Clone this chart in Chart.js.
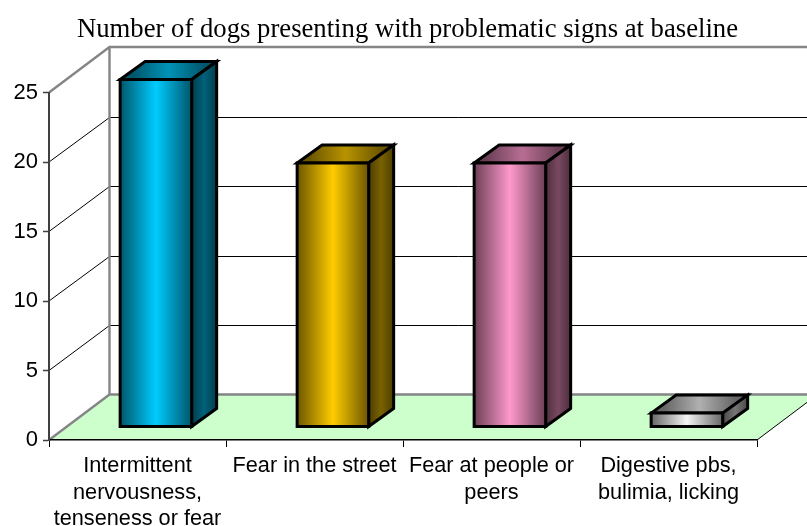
<!DOCTYPE html>
<html>
<head>
<meta charset="utf-8">
<style>html,body{margin:0;padding:0;background:#fff}#w{width:807px;height:526px;position:relative}canvas{display:block}</style>
<script src="https://cdn.jsdelivr.net/npm/chart.js@4"></script>
</head>
<body>
<div id="w"><canvas id="c" width="807" height="526"></canvas></div>
<script>
const titleText = 'Number of dogs presenting with problematic signs at baseline';
const categories = [['Intermittent','nervousness,','tenseness or fear'],'Fear in the street',['Fear at people or','peers'],['Digestive pbs,','bulimia, licking']];
const values = [25, 19, 19, 1];
const barColors = ['#00CCFF', '#FFCC00', '#FF99CC', '#F4F4F4'];
const yTicks = [0, 5, 10, 15, 20, 25];

const WALL = {dx: 60.5, dy: 45.5};
const BAR = {ox: 18.4, oy: 13, dx: 25, dy: 18};

function shade(hex, f) {
  const n = parseInt(hex.slice(1), 16);
  const r = (n >> 16) & 255, g = (n >> 8) & 255, b = n & 255;
  return `rgb(${Math.round(r * f)},${Math.round(g * f)},${Math.round(b * f)})`;
}
function sym(ctx, x0, x1, col, edge, mid) {
  const g = ctx.createLinearGradient(x0, 0, x1, 0);
  g.addColorStop(0, shade(col, edge));
  g.addColorStop(0.5, shade(col, mid));
  g.addColorStop(1, shade(col, edge));
  return g;
}
function poly(ctx, pts) {
  ctx.beginPath();
  pts.forEach((p, i) => i ? ctx.lineTo(p[0], p[1]) : ctx.moveTo(p[0], p[1]));
  ctx.closePath();
}
const threeD = {
  id: 'threeD',
  afterLayout(chart) {
    chart.titleBlock.left = 0;
    chart.titleBlock.right = 815;
  },
  beforeDraw(chart) {
    const ctx = chart.ctx, x = chart.scales.x, y = chart.scales.y;
    const L = chart.chartArea.left, R = chart.chartArea.right, W = chart.width;
    const y0 = y.getPixelForValue(0), yT = y.getPixelForValue(25);
    const bx = L + WALL.dx;
    ctx.save();
    ctx.fillStyle = '#fff';
    ctx.fillRect(0, 0, W, chart.height);
    poly(ctx, [[L, y0], [bx, y0 - WALL.dy], [R + WALL.dx, y0 - WALL.dy], [R, y0]]);
    ctx.fillStyle = '#CCFFCC';
    ctx.fill();
    ctx.strokeStyle = '#000';
    ctx.lineWidth = 1;
    yTicks.slice(1, -1).forEach(v => {
      const p = y.getPixelForValue(v);
      const hy = Math.round(p - WALL.dy) + 0.5;
      ctx.beginPath();
      ctx.moveTo(L, p);
      ctx.lineTo(bx, hy);
      ctx.lineTo(W, hy);
      ctx.stroke();
    });
    ctx.beginPath();
    ctx.moveTo(R, y0);
    ctx.lineTo(R + WALL.dx, y0 - WALL.dy);
    ctx.stroke();
    ctx.strokeStyle = '#858585';
    ctx.lineWidth = 2.4;
    ctx.beginPath();
    ctx.moveTo(L, y0);
    ctx.lineTo(bx, y0 - WALL.dy);
    ctx.lineTo(W, y0 - WALL.dy);
    ctx.moveTo(bx, y0 - WALL.dy);
    ctx.lineTo(bx, yT - WALL.dy);
    ctx.moveTo(L, yT);
    ctx.lineTo(bx, yT - WALL.dy);
    ctx.lineTo(W, yT - WALL.dy);
    ctx.stroke();
    ctx.restore();
  },
  afterDatasetsDraw(chart) {
    const ctx = chart.ctx;
    const meta = chart.getDatasetMeta(0);
    ctx.save();
    ctx.lineJoin = 'miter';
    ctx.strokeStyle = '#000';
    ctx.lineWidth = 3;
    meta.data.forEach((el, i) => {
      const col = barColors[i];
      const l = el.x - el.width / 2 + BAR.ox, r = el.x + el.width / 2 + BAR.ox;
      const t = el.y - BAR.oy, b = el.base - BAR.oy;
      const dx = BAR.dx, dy = BAR.dy;
      poly(ctx, [[l, t], [l + dx, t - dy], [r + dx, t - dy], [r, t]]);
      ctx.fillStyle = sym(ctx, l + dx / 2, r + dx / 2, col, 0.42, 0.72);
      ctx.fill();
      ctx.stroke();
      poly(ctx, [[r, t], [r + dx, t - dy], [r + dx, b - dy], [r, b]]);
      ctx.fillStyle = sym(ctx, r, r + dx, col, 0.3, 0.48);
      ctx.fill();
      ctx.stroke();
      poly(ctx, [[l, t], [r, t], [r, b], [l, b]]);
      ctx.fillStyle = sym(ctx, l, r, col, 0.42, 1);
      ctx.fill();
      ctx.stroke();
    });
    ctx.restore();
  }
};

new Chart(document.getElementById('c'), {
  type: 'bar',
  data: {
    labels: categories,
    datasets: [{data: values, backgroundColor: 'rgba(0,0,0,0)', borderWidth: 0, barPercentage: 0.404, categoryPercentage: 1}]
  },
  plugins: [threeD],
  options: {
    responsive: false,
    animation: false,
    layout: {padding: {left: 0, right: 50, top: 0, bottom: 0}},
    plugins: {
      legend: {display: false},
      tooltip: {enabled: false},
      title: {
        display: true,
        text: titleText,
        color: '#000',
        font: {family: '"Liberation Serif"', size: 26.7, weight: 'normal', lineHeight: 1.2},
        padding: {top: 13.5, bottom: 47}
      }
    },
    scales: {
      x: {
        afterFit(s) { s.height = 86; },
        border: {color: '#000', width: 1.5},
        grid: {offset: true, drawOnChartArea: false, color: '#000', tickLength: 7, tickWidth: 1},
        ticks: {color: '#000', padding: 6, maxRotation: 0, autoSkip: false, font: {family: '"Liberation Sans"', size: 21.7, lineHeight: 1.22}}
      },
      y: {
        min: 0, max: 25,
        afterFit(s) { s.width = 49; },
        border: {color: '#404040', width: 2},
        grid: {drawOnChartArea: false, color: '#404040', tickLength: 6, tickWidth: 1.5},
        ticks: {color: '#000', stepSize: 5, padding: 5, font: {family: '"Liberation Sans"', size: 22}}
      }
    }
  }
});
</script>
</body>
</html>
